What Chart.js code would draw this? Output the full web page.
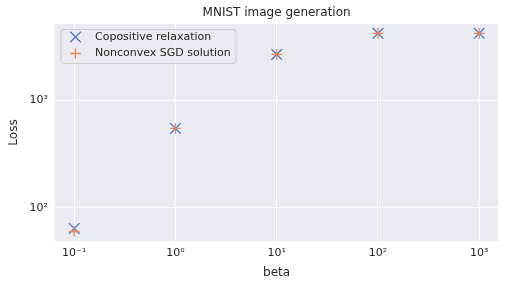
<!DOCTYPE html>
<html>
<head>
<meta charset="utf-8">
<script src="https://cdn.jsdelivr.net/npm/chart.js@4/dist/chart.umd.min.js"></script>
<style>
html,body{margin:0;padding:0;background:#fff;}
#wrap{width:507px;height:288px;position:relative;}
</style>
</head>
<body>
<div id="wrap"><canvas id="c" width="507" height="288"></canvas></div>
<script>
const betas = [0.1, 1, 10, 100, 1000];
const copositive = [64.6, 546, 2655, 4160, 4160];
const sgd = [60.5, 546, 2655, 4160, 4160];
const xTickValues = [0.1, 1, 10, 100, 1000];
const xTickLabels = ['10\u207B\u00B9', '10\u2070', '10\u00B9', '10\u00B2', '10\u00B3'];
const yTickValues = [100, 1000];
const yTickLabels = ['10\u00B2', '10\u00B3'];
const seriesNames = ['Copositive relaxation', 'Nonconvex SGD solution'];
const chartTitle = 'MNIST image generation';

const FONT = "'DejaVu Sans', sans-serif";
const TXT = '#262626';

const bgPlugin = {
  id: 'bg',
  beforeDraw(chart) {
    const a = chart.chartArea, ctx = chart.ctx;
    ctx.save();
    ctx.fillStyle = '#EAEAF2';
    ctx.fillRect(a.left, a.top, a.right - a.left, a.bottom - a.top);
    ctx.restore();
  }
};

const legendPlugin = {
  id: 'customLegend',
  afterDraw(chart) {
    const ctx = chart.ctx;
    const a = chart.chartArea;
    ctx.save();
    ctx.fillStyle = TXT;
    ctx.font = '12px ' + FONT;
    ctx.textAlign = 'center';
    ctx.textBaseline = 'middle';
    ctx.fillText(chartTitle, (a.left + a.right) / 2, 13);
    const x0 = 61, y0 = 29.5, w = 175, h = 34, r = 3;
    ctx.beginPath();
    ctx.moveTo(x0 + r, y0);
    ctx.arcTo(x0 + w, y0, x0 + w, y0 + h, r);
    ctx.arcTo(x0 + w, y0 + h, x0, y0 + h, r);
    ctx.arcTo(x0, y0 + h, x0, y0, r);
    ctx.arcTo(x0, y0, x0 + w, y0, r);
    ctx.closePath();
    ctx.fillStyle = 'rgba(234,234,242,0.8)';
    ctx.fill();
    ctx.strokeStyle = '#cccccc';
    ctx.lineWidth = 1;
    ctx.stroke();
    chart.data.datasets.forEach((ds, i) => {
      const cy = 37 + i * 16.5, cx = 75.5;
      ctx.strokeStyle = ds.borderColor;
      ctx.lineWidth = ds.pointBorderWidth;
      ctx.beginPath();
      if (ds.pointStyle === 'crossRot') {
        const d = ds.pointRadius * Math.SQRT1_2;
        ctx.moveTo(cx - d, cy - d); ctx.lineTo(cx + d, cy + d);
        ctx.moveTo(cx - d, cy + d); ctx.lineTo(cx + d, cy - d);
      } else {
        const d = ds.pointRadius;
        ctx.moveTo(cx - d, cy); ctx.lineTo(cx + d, cy);
        ctx.moveTo(cx, cy - d); ctx.lineTo(cx, cy + d);
      }
      ctx.stroke();
      ctx.fillStyle = TXT;
      ctx.font = '11px ' + FONT;
      ctx.textBaseline = 'middle';
      ctx.textAlign = 'left';
      ctx.fillText(ds.label, 95, cy);
    });
    ctx.restore();
  }
};

new Chart(document.getElementById('c'), {
  type: 'scatter',
  data: {
    datasets: [
      {
        label: seriesNames[0],
        data: betas.map((b, i) => ({x: b, y: copositive[i]})),
        pointStyle: 'crossRot',
        pointRadius: 7.5,
        pointHoverRadius: 7.5,
        pointBorderWidth: 1.3,
        borderColor: '#4878d0',
        backgroundColor: '#4878d0',
        order: 1
      },
      {
        label: seriesNames[1],
        data: betas.map((b, i) => ({x: b, y: sgd[i]})),
        pointStyle: 'cross',
        pointRadius: 5.3,
        pointHoverRadius: 5.3,
        pointBorderWidth: 1.3,
        borderColor: '#ee854a',
        backgroundColor: '#ee854a',
        order: 0
      }
    ]
  },
  options: {
    responsive: false,
    animation: false,
    events: [],
    layout: { padding: { top: 24, right: 5, left: 0, bottom: 0 } },
    plugins: {
      legend: { display: false },
      tooltip: { enabled: false },
      title: { display: false }
    },
    scales: {
      x: {
        type: 'logarithmic',
        min: 0.0646,
        max: 1540,
        afterBuildTicks(s) { s.ticks = xTickValues.map(v => ({value: v})); },
        afterFit(s) { s.height = 47; s.paddingLeft = 0; s.paddingRight = 0; },
        ticks: {
          color: TXT,
          font: { family: FONT, size: 11 },
          padding: 6,
          autoSkip: false,
          maxRotation: 0,
          callback(v) { const i = xTickValues.indexOf(v); return i >= 0 ? xTickLabels[i] : ''; }
        },
        grid: { color: '#ffffff', lineWidth: 1, drawTicks: false },
        border: { display: false },
        title: {
          display: true, text: 'beta', color: TXT,
          font: { family: FONT, size: 12 }, padding: { top: 4, bottom: 8 }
        }
      },
      y: {
        type: 'logarithmic',
        min: 49.4,
        max: 5080,
        afterBuildTicks(s) { s.ticks = yTickValues.map(v => ({value: v})); },
        afterFit(s) { s.width = 55; s.paddingTop = 0; s.paddingBottom = 0; },
        ticks: {
          color: TXT,
          font: { family: FONT, size: 11 },
          padding: 7,
          autoSkip: false,
          callback(v) { const i = yTickValues.indexOf(v); return i >= 0 ? yTickLabels[i] : ''; }
        },
        grid: { color: '#ffffff', lineWidth: 1, drawTicks: false },
        border: { display: false },
        title: {
          display: true, text: 'Loss', color: TXT,
          font: { family: FONT, size: 12 }, padding: { top: 7, bottom: 4 }
        }
      }
    }
  },
  plugins: [bgPlugin, legendPlugin]
});
</script>
</body>
</html>
